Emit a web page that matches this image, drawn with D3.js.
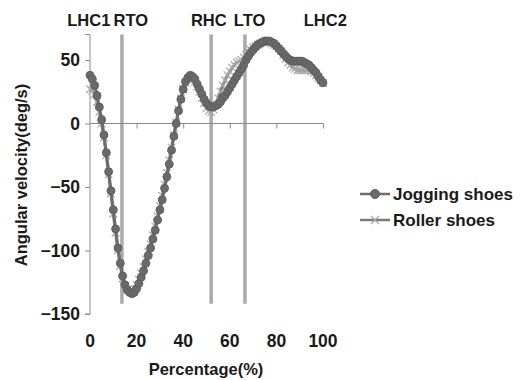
<!DOCTYPE html>
<html><head><meta charset="utf-8">
<script src="https://cdn.jsdelivr.net/npm/d3@7"></script>
<style>body{margin:0;background:#fff}svg{display:block}text{font-family:Arial,"Liberation Sans",sans-serif;font-weight:bold;fill:#1a1a1a}</style>
</head><body><svg id="c" width="520" height="380"></svg>
<script>
const percent = d3.range(0, 101);
const jogging = [38,35,30,22,13,3,-9,-23,-38,-53,-68,-83,-98,-110,-120,-127,-131,-133,-134,-133,
 -130,-126,-121,-116,-110,-104,-98,-91,-84,-76,-68,-60,-51,-42,-32,-21,-10,0,10,19,
 27,33,36,38,37,35,31,27,23,19,16,14,13,13,14,15,17,20,22,25,
 28,31,34,37,40,43,46,50,53,56,58,60,62,63,64,65,65,65,64,63,
 61,59,57,55,53,51,50,49,49,49,49,49,48,47,46,44,42,40,37,34,32];
const roller = [27,26,23,17,9,0,-11,-25,-40,-55,-71,-86,-100,-112,-122,-128,-131,-132,-132,-130,
 -127,-123,-118,-113,-107,-101,-95,-88,-81,-73,-65,-57,-48,-39,-29,-19,-9,1,11,20,
 27,32,35,36,35,33,29,25,20,16,12,10,9,11,15,20,25,30,34,38,
 41,44,46,48,49,50,52,54,56,58,60,61,62,63,64,64,64,64,63,62,
 61,59,57,54,51,48,46,44,43,42,42,42,42,42,42,41,40,38,36,34,32];
const seriesNames = ["Jogging shoes", "Roller shoes"];
const eventPercent = [13.7, 52, 66.5];
const eventLabels = ["LHC1", "RTO", "RHC", "LTO", "LHC2"];
const eventLabelPercent = [-0.5, 17.5, 51, 68.5, 101];
const xTicks = [0, 20, 40, 60, 80, 100];
const yTicks = [-150, -100, -50, 0, 50];

const svg = d3.select("#c");
const x = d3.scaleLinear().domain([0, 100]).range([90, 323]);
const y = d3.scaleLinear().domain([-150, 70]).range([314, 34.6]);

// event vertical lines
svg.selectAll("line.ev").data(eventPercent).join("line")
  .attr("x1", d => x(d)).attr("x2", d => x(d))
  .attr("y1", y(70)).attr("y2", y(-142))
  .attr("stroke", "#aaaaaa").attr("stroke-width", 3.5);

// y axis
const yAxis = d3.axisLeft(y).tickValues(yTicks).tickSize(5).tickPadding(5).tickFormat(d3.format("d"));
const gy = svg.append("g").attr("transform", `translate(${x(0)},0)`).call(yAxis);
gy.select(".domain").attr("stroke", "#8a8a8a").attr("d", `M-5,${y(70)}H0V${y(-150)}H-5`);
gy.selectAll(".tick line").attr("stroke", "#8a8a8a");
gy.selectAll(".tick text").style("font-size", "17.5px").attr("fill", "#1a1a1a");

// x axis at y=0
const xAxis = d3.axisBottom(x).tickValues(xTicks.slice(1)).tickSize(5).tickFormat("");
const gx = svg.append("g").attr("transform", `translate(0,${y(0)})`).call(xAxis);
gx.select(".domain").attr("stroke", "#8a8a8a").attr("d", `M${x(0)},0H${x(100)}`);
gx.selectAll(".tick line").attr("stroke", "#8a8a8a");

// x tick labels at bottom
svg.append("g").selectAll("text").data(xTicks).join("text")
  .attr("x", d => x(d)).attr("y", 347).attr("text-anchor", "middle")
  .style("font-size", "17.5px").text(d => d);

// axis titles
svg.append("text").attr("x", 206).attr("y", 375).attr("text-anchor", "middle")
  .style("font-size", "16.5px").text("Percentage(%)");
svg.append("text").attr("transform", "translate(27,175) rotate(-90)").attr("text-anchor", "middle")
  .style("font-size", "16.5px").text("Angular velocity(deg/s)");

// event labels
svg.append("g").selectAll("text").data(eventLabels).join("text")
  .attr("x", (d, i) => x(eventLabelPercent[i])).attr("y", 26).attr("text-anchor", "middle")
  .style("font-size", "16.5px").text(d => d);

const line = d3.line().x((d, i) => x(percent[i])).y(d => y(d));

// roller series
svg.append("path").datum(roller).attr("d", line).attr("fill", "none")
  .attr("stroke", "#7a7a7a").attr("stroke-width", 3);
const cross = (cx, cy, s) => `M${cx-s},${cy-s}L${cx+s},${cy+s}M${cx-s},${cy+s}L${cx+s},${cy-s}`;
svg.append("g").selectAll("path").data(roller).join("path")
  .attr("d", (d, i) => cross(x(percent[i]), y(d), 3.8))
  .attr("stroke", "#a8a8a8").attr("stroke-width", 1.2).attr("fill", "none");

// jogging series
svg.append("path").datum(jogging).attr("d", line).attr("fill", "none")
  .attr("stroke", "#6e6e6e").attr("stroke-width", 3);
svg.append("g").selectAll("circle").data(jogging).join("circle")
  .attr("cx", (d, i) => x(percent[i])).attr("cy", d => y(d)).attr("r", 4)
  .attr("fill", "#6a6a6a").attr("stroke", "#5a5a5a").attr("stroke-width", 0.8);

// legend
const lg = svg.append("g");
seriesNames.forEach((name, i) => {
  const ly = 194 + i * 26;
  lg.append("line").attr("x1", 360).attr("x2", 390).attr("y1", ly).attr("y2", ly)
    .attr("stroke", i === 0 ? "#6e6e6e" : "#7a7a7a").attr("stroke-width", 2.5);
  if (i === 0) {
    lg.append("circle").attr("cx", 375).attr("cy", ly).attr("r", 4.5).attr("fill", "#6a6a6a").attr("stroke", "#5a5a5a");
  } else {
    lg.append("path").attr("d", cross(375, ly, 4)).attr("stroke", "#a8a8a8").attr("stroke-width", 1.2);
  }
  lg.append("text").attr("x", 393).attr("y", ly + 6).style("font-size", "17px").text(name);
});
</script></body></html>
